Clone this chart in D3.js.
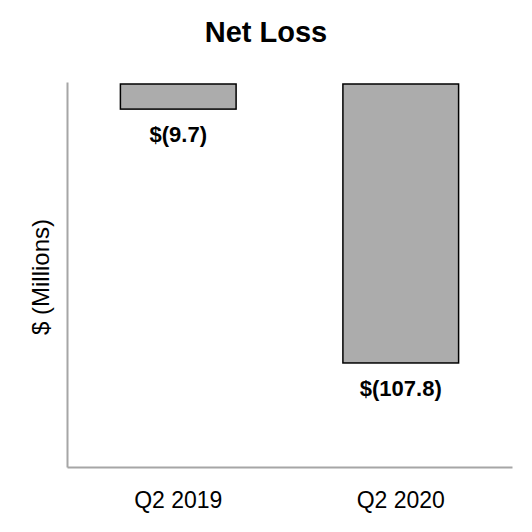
<!DOCTYPE html>
<html><head><meta charset="utf-8">
<script src="https://cdn.jsdelivr.net/npm/d3@7/dist/d3.min.js"></script>
<style>body{margin:0;background:#fff}svg{display:block}text{font-family:"Liberation Sans",Arial,sans-serif}</style>
</head><body><svg id="c" width="532" height="532"></svg>
<script>
const categories = ["Q2 2019", "Q2 2020"];
const values = [-9.7, -107.8];
const valueLabels = ["$(9.7)", "$(107.8)"];
const title = "Net Loss";
const yTitle = "$ (Millions)";

const svg = d3.select("#c");
const x = d3.scaleBand().domain(categories).range([67, 512]).paddingInner(0.48).paddingOuter(0.24);
const y = d3.scaleLinear().domain([0, -148]).range([84, 467]);

svg.append("text").attr("x", 266).attr("y", 42).attr("text-anchor", "middle")
  .attr("font-size", 29).attr("font-weight", "bold").text(title);

svg.selectAll("rect.bar").data(values).join("rect").attr("class", "bar")
  .attr("x", (d, i) => x(categories[i])).attr("width", x.bandwidth())
  .attr("y", d => y(0)).attr("height", d => y(d) - y(0))
  .attr("fill", "#acacac").attr("stroke", "#000").attr("stroke-width", 1.5);

svg.selectAll("text.vl").data(values).join("text").attr("class", "vl")
  .attr("x", (d, i) => x(categories[i]) + x.bandwidth() / 2)
  .attr("y", d => y(d) + 33).attr("text-anchor", "middle")
  .attr("font-size", 22).attr("font-weight", "bold")
  .text((d, i) => valueLabels[i]);

const yAxis = svg.append("g").attr("transform", "translate(67,0)")
  .call(d3.axisLeft(y.copy().range([82, 467])).tickValues([]).tickSizeOuter(0));
yAxis.select(".domain").attr("stroke", "#a6a6a6").attr("stroke-width", 2);

const xAxis = svg.append("g").attr("transform", `translate(0,${y.range()[1]})`)
  .call(d3.axisBottom(x).tickSize(0).tickSizeOuter(0).tickPadding(0));
xAxis.select(".domain").attr("stroke", "#a6a6a6").attr("stroke-width", 2);
xAxis.selectAll(".tick text").attr("font-size", 23).attr("fill", "#000")
  .attr("font-family", '"Liberation Sans",Arial,sans-serif')
  .attr("dy", null).attr("y", 41);

svg.append("text").attr("transform", "translate(49,277) rotate(-90)")
  .attr("text-anchor", "middle").attr("font-size", 24).text(yTitle);
</script></body></html>
